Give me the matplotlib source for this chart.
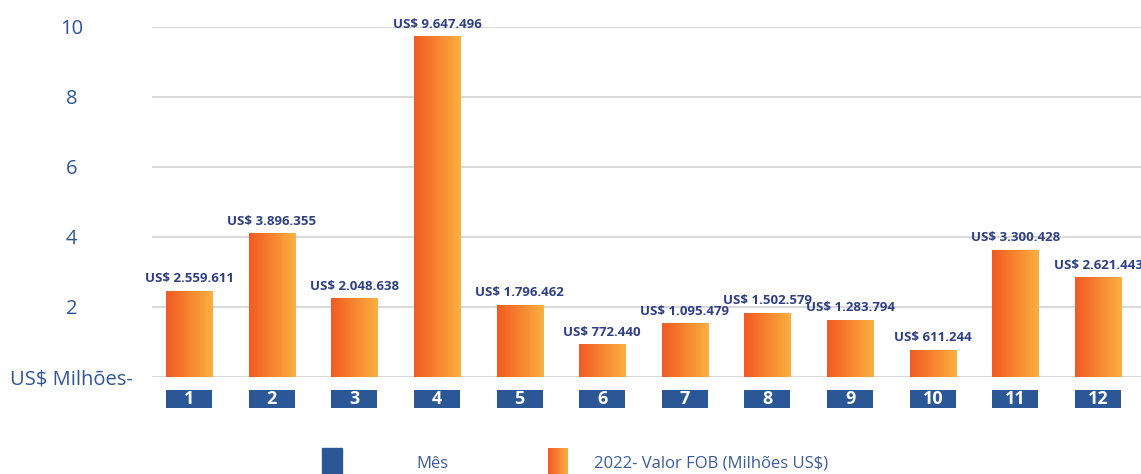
import numpy as np
import matplotlib
matplotlib.use('Agg')
import matplotlib.pyplot as plt
from matplotlib.colors import LinearSegmentedColormap
from matplotlib.patches import Rectangle

# ---- data ----
months = ['1', '2', '3', '4', '5', '6', '7', '8', '9', '10', '11', '12']
bar_heights = [2.45, 4.10, 2.23, 9.73, 2.05, 0.93, 1.53, 1.82, 1.62, 0.77, 3.62, 2.84]
value_labels = ['US$ 2.559.611', 'US$ 3.896.355', 'US$ 2.048.638', 'US$ 9.647.496',
                'US$ 1.796.462', 'US$ 772.440', 'US$ 1.095.479', 'US$ 1.502.579',
                'US$ 1.283.794', 'US$ 611.244', 'US$ 3.300.428', 'US$ 2.621.443']
y_ticks = [0, 2, 4, 6, 8, 10]
y_tick_labels = ['US$ Milhões-', '2', '4', '6', '8', '10']
legend_labels = ['Mês', '2022- Valor FOB (Milhões US$)']

plt.rcParams['font.family'] = ['Open Sans', 'DejaVu Sans']

TICK_BLUE = '#2F5597'
LABEL_NAVY = '#2E3F85'
BOX_BLUE = '#2B5797'
cmap = LinearSegmentedColormap.from_list('orange', ['#F15A22', '#FBB040'])
gradient = np.linspace(0, 1, 256).reshape(1, -1)

W, H = 1141, 474
fig = plt.figure(figsize=(W / 100, H / 100), dpi=100)
ax = fig.add_axes([152 / W, 1 - 376.7 / H, 1 - 152 / W, (376.7 - 26.7) / H])

x = np.arange(1, len(months) + 1)
bw = 0.557
bars = ax.bar(x, bar_heights, width=bw, color='none', zorder=2)
for b in bars:
    x0, y0 = b.get_xy()
    ax.imshow(gradient, extent=[x0, x0 + b.get_width(), y0, y0 + b.get_height()],
              aspect='auto', cmap=cmap, zorder=2, interpolation='bilinear')

# value labels
for xi, h, lbl in zip(x, bar_heights, value_labels):
    ax.annotate(lbl, (xi, h), xytext=(0, 4), textcoords='offset points',
                ha='center', va='bottom', fontweight='bold', color=LABEL_NAVY,
                fontsize=9.5, annotation_clip=False)

# month boxes below axis
box_bottom, box_h = -0.887, 0.515
boxes = ax.bar(x, [box_h] * len(x), bottom=box_bottom, width=bw, color=BOX_BLUE, zorder=2)
for p in boxes:
    p.set_clip_on(False)
for xi, m in zip(x, months):
    ax.text(xi, box_bottom + box_h / 2, m, ha='center', va='center', color='white',
            fontweight='bold', fontsize=13, clip_on=False)

ax.set_xlim(0.552, 12.52)
ax.set_ylim(0, 10)
ax.set_yticks(y_ticks)
ax.set_yticklabels(y_tick_labels, fontsize=14.5, color=TICK_BLUE)
for t in ax.get_yticklabels():
    t.set_ha('center')
ax.tick_params(axis='y', length=0, pad=58)
ax.set_xticks([])
ax.yaxis.grid(True, color='#D9D9D9', linewidth=1.5)
ax.set_axisbelow(True)
for s in ax.spines.values():
    s.set_visible(False)

# legend (custom)
fig.add_artist(Rectangle((322 / W, 0), 20 / W, 26 / H, transform=fig.transFigure,
                         color=BOX_BLUE))
lax = fig.add_axes([548 / W, 0, 20 / W, 26 / H])
lax.imshow(gradient, aspect='auto', cmap=cmap, extent=[0, 1, 0, 1])
lax.axis('off')
fig.text(432 / W, 1 - 464 / H, legend_labels[0], ha='center', va='center',
         fontsize=12, color='#3B5BA0')
fig.text(594 / W, 1 - 464 / H, legend_labels[1], ha='left', va='center',
         fontsize=12, color='#3B5BA0')

fig.savefig('out.png', dpi=100)
